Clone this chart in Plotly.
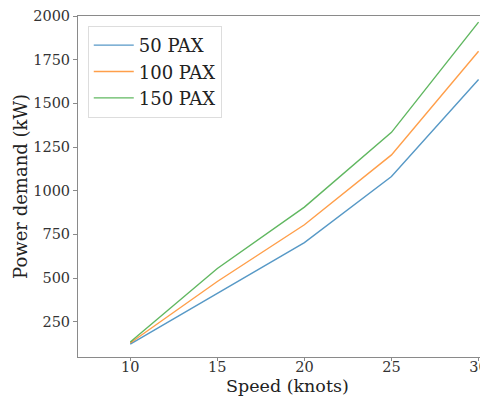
import plotly.graph_objects as go

speed = [10, 15, 20, 25, 30]
pax50 = [122, 410, 703, 1081, 1636]
pax100 = [128, 480, 805, 1205, 1798]
pax150 = [134, 555, 906, 1334, 1965]
series_names = ["50 PAX", "100 PAX", "150 PAX"]
colors = ["#1f77b4", "#ff7f0e", "#2ca02c"]
y_ticks = [250, 500, 750, 1000, 1250, 1500, 1750, 2000]
x_ticks = [10, 15, 20, 25, 30]

FONT = "DejaVu Serif"
AX = "#8a8a8a"

fig = go.Figure()
for name, vals, c in zip(series_names, [pax50, pax100, pax150], colors):
    fig.add_trace(go.Scatter(x=speed, y=vals, mode="lines", name=name,
                             line=dict(color=c, width=1.4), opacity=0.75))

fig.update_layout(
    width=480, height=388,
    margin=dict(l=70, r=0, t=8, b=39),
    plot_bgcolor="white", paper_bgcolor="white",
    font=dict(family=FONT, size=14.5, color="#333"),
    showlegend=True,
    legend=dict(x=0.024, y=0.971, xanchor="left", yanchor="top",
                bgcolor="rgba(255,255,255,0.8)", bordercolor="#dddddd", borderwidth=1,
                font=dict(family=FONT, size=18, color="#222"),
                tracegroupgap=0, itemwidth=40),
    xaxis=dict(range=[7, 30.37], tickvals=x_ticks, showgrid=False, zeroline=False,
               showline=True, linecolor=AX, linewidth=1, mirror=True,
               ticks="outside", ticklen=3, tickcolor=AX, ticklabeloverflow="allow",
               ticklabelstandoff=-6,
               tickfont=dict(family=FONT, size=14.5, color="#333")),
    yaxis=dict(range=[48, 2000], tickvals=y_ticks, showgrid=False, zeroline=False,
               showline=True, linecolor=AX, linewidth=1,
               ticks="outside", ticklen=4, tickcolor=AX, ticklabeloverflow="allow",
               title=dict(text="Power demand (kW)", font=dict(family=FONT, size=18, color="#222"),
                          standoff=0),
               tickfont=dict(family=FONT, size=14.5, color="#333")),
    annotations=[dict(text="Speed (knots)", xref="paper", yref="paper",
                      x=0.5146, y=0, yshift=-28.5, xanchor="center", yanchor="middle",
                      showarrow=False, font=dict(family=FONT, size=17.5, color="#222"))],
)

fig.write_html("out.html")
